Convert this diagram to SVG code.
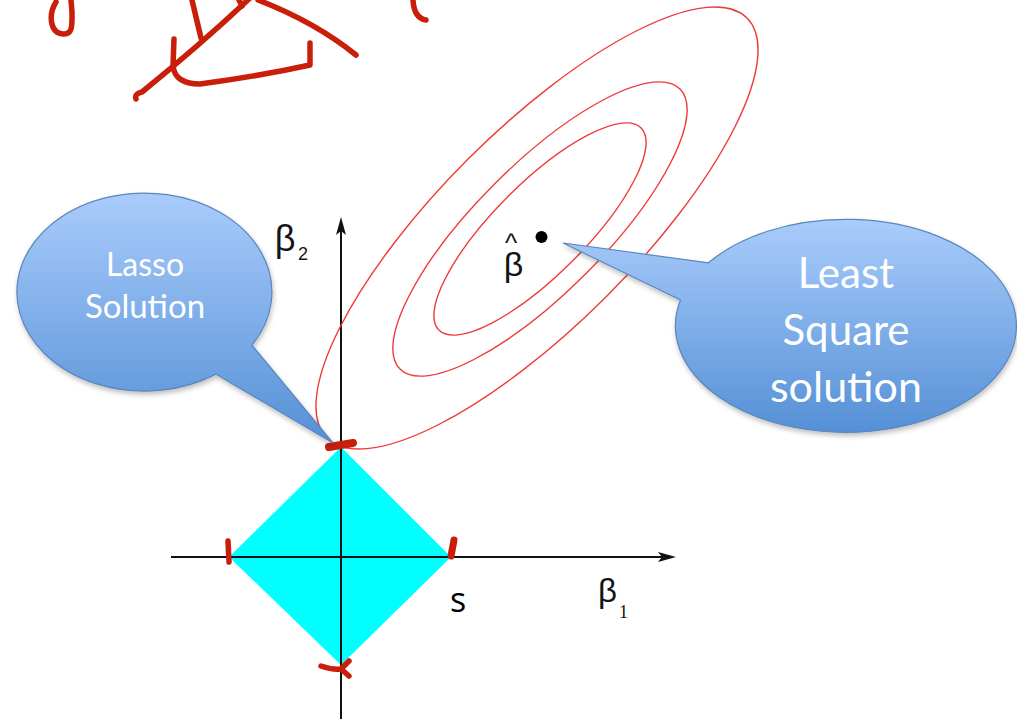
<svg xmlns="http://www.w3.org/2000/svg" width="1017" height="719" viewBox="0 0 1017 719">
<style>
.ink{fill:none;stroke:#c81e0a;stroke-width:5.5;stroke-linecap:round;stroke-linejoin:round}
.axis{stroke:#111;stroke-width:2;fill:none}
.contour{fill:none;stroke:#f03a3a;stroke-width:1.4}
.callout{fill:url(#blueGrad);stroke:#5a86be;stroke-width:1.2;filter:url(#shadow)}
.ctext{font-family:Lato,"Open Sans",sans-serif;fill:#fff;text-anchor:middle}
.greek{font-family:"Liberation Sans",Arial,sans-serif;fill:#141414}
</style>
<defs>
<linearGradient id="blueGrad" x1="0" y1="0" x2="0" y2="1">
<stop offset="0" stop-color="#a9ccfb"/>
<stop offset="1" stop-color="#5590d6"/>
</linearGradient>
<filter id="shadow" x="-10%" y="-10%" width="125%" height="130%">
<feDropShadow dx="1" dy="3" stdDeviation="2.5" flood-color="#000" flood-opacity="0.25"/>
</filter>
<marker id="arrow" viewBox="-8 -6 20 12" markerWidth="20" markerHeight="12" refX="0" refY="0" orient="auto" markerUnits="userSpaceOnUse">
<path d="M10,0 L-8,-5 L-4,0 L-8,5 Z" fill="#111"/>
</marker>
</defs>
<rect width="1017" height="719" fill="#fff"/>

<g id="scribbles">
<path class="ink" d="M56,2 C48,15 50,33 63,34 C73,35 72,25 72,12 L71,0"/>
<path class="ink" d="M192,0 L201,38"/>
<path class="ink" d="M136,99 Q134,94 142,92 Q200,45 250,-2"/>
<path class="ink" d="M239,0 L242,6"/>
<path class="ink" d="M258,0 Q315,22 356,55"/>
<path class="ink" d="M174,39 L173,66 Q175,84 200,84 Q260,76 310,65 L310,43"/>
<path class="ink" d="M413,0 Q414,18 426,20"/>
</g>

<g id="constraint-region">
<polygon points="341,447 451,557 341,665 229,557" fill="#00ffff"/>
</g>

<g id="axes">
<line class="axis" x1="341" y1="719" x2="341" y2="227" marker-end="url(#arrow)"/>
<line class="axis" x1="171" y1="557" x2="666" y2="557" marker-end="url(#arrow)"/>
</g>

<g id="contours">
<ellipse class="contour" cx="540" cy="229" rx="143" ry="45.6" transform="rotate(-45 540 229)"/>
<ellipse class="contour" cx="540" cy="229" rx="198" ry="64" transform="rotate(-45 540 229)"/>
<ellipse class="contour" cx="537" cy="228" rx="297" ry="97.5" transform="rotate(-45 537 228)"/>
</g>

<g id="beta-hat">
<circle cx="541.5" cy="237" r="6" fill="#000"/>
<text class="greek" text-anchor="middle"><tspan x="511" y="252" font-size="26">^</tspan><tspan x="513.5" y="276" font-size="34">β</tspan></text>
</g>

<g id="labels">
<text class="greek" x="285" y="251" font-size="36" text-anchor="middle">β</text>
<text class="greek" x="298" y="260" font-size="18">2</text>
<text class="greek" x="607.5" y="602" font-size="33" text-anchor="middle">β</text>
<text x="619" y="618" font-size="18" font-family="'Liberation Serif',serif" fill="#141414">1</text>
<text x="458" y="612" font-size="34" font-family="'Open Sans',sans-serif" fill="#000" text-anchor="middle">s</text>
</g>

<g id="marks">
<path class="ink" style="stroke-width:8" d="M329,447 L353,443"/>
<path class="ink" d="M228,541 L229,562"/>
<path class="ink" style="stroke-width:7" d="M454,540 L451,556"/>
<path class="ink" d="M321,666 Q332,670 341,669 L349,661 M341,669 L349,676"/>
</g>

<g id="lasso-callout">
<path class="callout" d="M252.0,345.2 A127.5 99 0 1 0 215.8,374.1 L333,443 Z"/>
<text class="ctext" x="145" y="276" font-size="32">Lasso</text>
<text class="ctext" x="145" y="318" font-size="33">Solution</text>
</g>

<g id="ls-callout">
<path class="callout" d="M708.5,262.8 A170.5 106.5 0 1 1 680.5,300.0 L563,243 Z"/>
<text class="ctext" x="846" y="288" font-size="42">Least</text>
<text class="ctext" x="846" y="345" font-size="42">Square</text>
<text class="ctext" x="846" y="402" font-size="43">solution</text>
</g>
</svg>
